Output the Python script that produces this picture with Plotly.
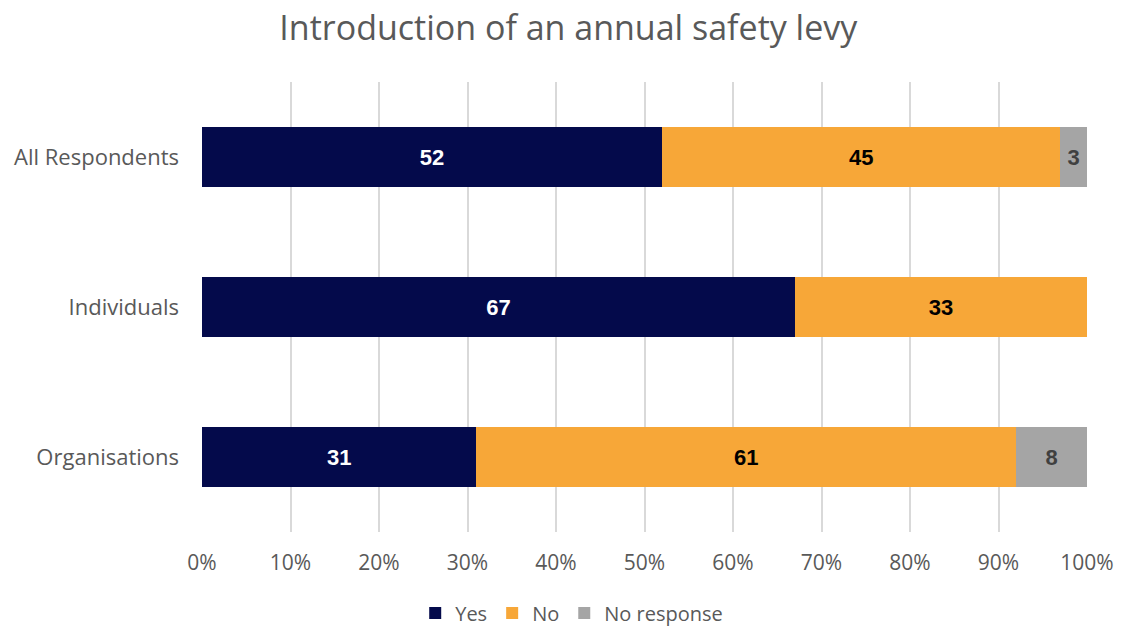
import plotly.graph_objects as go

categories = ["All Respondents", "Individuals", "Organisations"]
yes_vals = [52, 67, 31]
no_vals = [45, 33, 61]
nr_vals = [3, 0, 8]
x_ticks = [0, 10, 20, 30, 40, 50, 60, 70, 80, 90, 100]
x_tick_text = [f"{v}%" for v in x_ticks]

TEXT_FONT = "Open Sans"
LABEL_FONT = "Liberation Sans"
GREY = "#595959"

series = [
    ("Yes", yes_vals, "#040A4B", "#FFFFFF"),
    ("No", no_vals, "#F7A738", "#000000"),
    ("No response", nr_vals, "#A5A5A5", "#404040"),
]

fig = go.Figure()
for name, vals, color, tcolor in series:
    fig.add_trace(go.Bar(
        name=name,
        y=categories,
        x=vals,
        orientation="h",
        marker=dict(color=color, line=dict(width=0)),
        text=[str(v) if v else "" for v in vals],
        textposition="inside",
        insidetextanchor="middle",
        textangle=0,
        textfont=dict(family=LABEL_FONT, size=22, color=tcolor, weight="bold"),
        hoverinfo="skip",
    ))

fig.update_layout(
    barmode="stack",
    bargap=0.6,
    width=1121,
    height=628,
    paper_bgcolor="white",
    plot_bgcolor="white",
    margin=dict(l=202, r=34, t=82, b=96, autoexpand=False),
    uniformtext=dict(mode="show", minsize=8),
    title=dict(
        text="Introduction of an annual safety levy",
        x=0.507, xanchor="center", xref="container",
        y=1 - 28 / 628, yanchor="middle", yref="container",
        font=dict(family=TEXT_FONT, size=34, color=GREY),
    ),
    xaxis=dict(
        range=[0, 100],
        tickvals=x_ticks,
        ticktext=x_tick_text,
        showgrid=True,
        gridcolor="#D9D9D9",
        gridwidth=2,
        zeroline=False,
        showline=False,
        tickfont=dict(family=TEXT_FONT, size=21, color=GREY),
        ticks="",
        ticklabelstandoff=16,
        automargin=False,
        fixedrange=True,
    ),
    yaxis=dict(
        categoryorder="array",
        categoryarray=categories,
        autorange="reversed",
        showgrid=False,
        zeroline=False,
        showline=False,
        ticks="",
        ticklabelstandoff=22,
        tickfont=dict(family=TEXT_FONT, size=22, color=GREY),
        automargin=False,
        fixedrange=True,
    ),
    legend=dict(
        orientation="h",
        xref="container", yref="paper",
        x=0.51, xanchor="center",
        y=-0.180, yanchor="middle",
        font=dict(family=TEXT_FONT, size=20, color=GREY),
        itemwidth=30,
        traceorder="normal",
    ),
    showlegend=True,
)

fig.write_html("out.html")
